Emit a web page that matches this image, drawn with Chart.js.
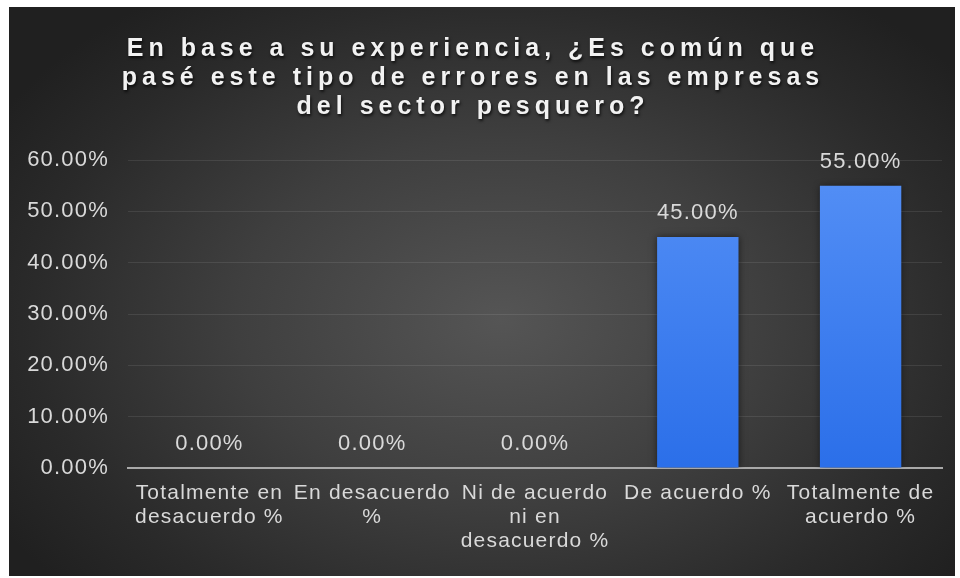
<!DOCTYPE html>
<html lang="es">
<head>
<meta charset="utf-8">
<title>Errores en el sector pesquero</title>
<script src="https://cdn.jsdelivr.net/npm/chart.js@4.4.1/dist/chart.umd.min.js"></script>
<style>
  html, body {
    margin: 0;
    padding: 0;
    background: #ffffff;
  }
  #frame {
    position: absolute;
    left: 9px;
    top: 7px;
    width: 946px;
    height: 569px;
    background: radial-gradient(ellipse 62% 70% at 52% 55%, #555555 0%, #3f3f3f 45%, #2a2a2a 80%, #202020 100%);
  }
  canvas {
    display: block;
  }
</style>
</head>
<body>
<div id="frame">
  <canvas id="chart" width="946" height="569"></canvas>
</div>
<script>
const titleLines = [
  'En base a su experiencia, ¿Es común que',
  'pasé este tipo de errores en las empresas',
  'del sector pesquero?'
];

const categories = [
  ['Totalmente en', 'desacuerdo %'],
  ['En desacuerdo', '%'],
  ['Ni de acuerdo', 'ni en', 'desacuerdo %'],
  ['De acuerdo %'],
  ['Totalmente de', 'acuerdo %']
];

const percentages = [0, 0, 0, 45, 55];

const yTicks = [0, 10, 20, 30, 40, 50, 60];

const textColor = '#d9d9d9';
const fontFamily = '"Liberation Sans", Arial, sans-serif';

function formatPercent(value) {
  return `${Number(value).toFixed(2)}%`;
}

function barGradient(context) {
  const area = context.chart.chartArea;
  if (!area) {
    return '#3a7cf0';
  }
  const gradient = context.chart.ctx.createLinearGradient(0, area.top, 0, area.bottom);
  gradient.addColorStop(0, '#5590f6');
  gradient.addColorStop(1, '#2b6fe9');
  return gradient;
}

// spacing for all axis / label text, the title sets its own
const textSpacing = {
  id: 'textSpacing',
  beforeDraw(chart) {
    chart.ctx.letterSpacing = '1.2px';
  }
};

const barShadow = {
  id: 'barShadow',
  beforeDatasetsDraw(chart) {
    const ctx = chart.ctx;
    ctx.save();
    ctx.shadowColor = 'rgba(0, 0, 0, 0.55)';
    ctx.shadowBlur = 7;
    ctx.shadowOffsetX = 0;
    ctx.shadowOffsetY = 0;
  },
  afterDatasetsDraw(chart) {
    chart.ctx.restore();
  }
};

const valueLabels = {
  id: 'valueLabels',
  afterDatasetsDraw(chart) {
    const ctx = chart.ctx;
    const meta = chart.getDatasetMeta(0);
    ctx.save();
    ctx.letterSpacing = '1.2px';
    ctx.font = `22px ${fontFamily}`;
    ctx.fillStyle = textColor;
    ctx.textAlign = 'center';
    ctx.textBaseline = 'middle';
    meta.data.forEach((bar, index) => {
      ctx.fillText(formatPercent(percentages[index]), bar.x, bar.y - 24);
    });
    ctx.restore();
  }
};

const spacedTitle = {
  id: 'spacedTitle',
  afterDraw(chart) {
    const ctx = chart.ctx;
    ctx.save();
    ctx.letterSpacing = '5px';
    ctx.font = `bold 25px ${fontFamily}`;
    ctx.fillStyle = '#f2f2f2';
    ctx.textAlign = 'center';
    ctx.textBaseline = 'alphabetic';
    ctx.shadowColor = 'rgba(0, 0, 0, 0.75)';
    ctx.shadowBlur = 3;
    ctx.shadowOffsetX = 1;
    ctx.shadowOffsetY = 2;
    titleLines.forEach((line, index) => {
      ctx.fillText(line, 464, 49 + index * 29);
    });
    ctx.restore();
  }
};

new Chart(document.querySelector('#chart'), {
  type: 'bar',
  data: {
    labels: categories,
    datasets: [{
      data: percentages,
      backgroundColor: barGradient,
      borderWidth: 0,
      barPercentage: 0.5,
      categoryPercentage: 1
    }]
  },
  options: {
    responsive: false,
    animation: false,
    layout: {
      padding: { top: 153, right: 13, bottom: 0, left: 0 }
    },
    plugins: {
      legend: { display: false },
      tooltip: { enabled: false },
      title: { display: false }
    },
    scales: {
      x: {
        grid: { display: false, drawTicks: false },
        border: { color: '#a9a9a9', width: 2 },
        ticks: {
          color: textColor,
          font: { family: fontFamily, size: 21, lineHeight: 1.15 },
          padding: 13,
          maxRotation: 0,
          autoSkip: false
        },
        afterFit(scale) {
          scale.height = 108;
        }
      },
      y: {
        min: 0,
        max: 60,
        afterBuildTicks(scale) {
          scale.ticks = yTicks.map((value) => ({ value }));
        },
        grid: {
          color: 'rgba(255, 255, 255, 0.09)',
          lineWidth: 1,
          drawTicks: false
        },
        border: { display: false },
        ticks: {
          color: textColor,
          font: { family: fontFamily, size: 22 },
          padding: 19,
          callback: (value) => formatPercent(value)
        },
        afterFit(scale) {
          scale.width = 119;
        }
      }
    }
  },
  plugins: [textSpacing, barShadow, valueLabels, spacedTitle]
});
</script>
</body>
</html>
